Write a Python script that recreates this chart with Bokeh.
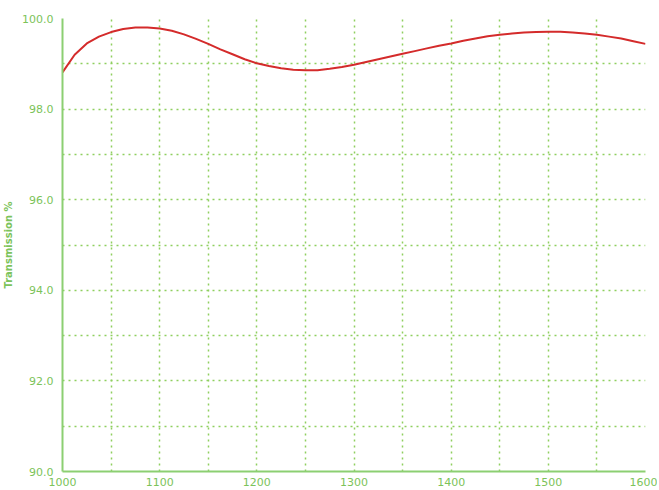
from bokeh.plotting import figure
from bokeh.embed import file_html
from bokeh.resources import INLINE
from bokeh.models import SingleIntervalTicker, FixedTicker, Range1d, CustomJSTickFormatter

wavelength = [1000, 1012.5, 1025, 1037.5, 1050, 1062.5, 1075, 1087.5, 1100, 1112.5, 1125, 1137.5,
              1150, 1162.5, 1175, 1187.5, 1200, 1212.5, 1225, 1237.5, 1250, 1262.5, 1275, 1287.5,
              1300, 1312.5, 1325, 1337.5, 1350, 1362.5, 1375, 1387.5, 1400, 1412.5, 1425, 1437.5,
              1450, 1462.5, 1475, 1487.5, 1500, 1512.5, 1525, 1537.5, 1550, 1562.5, 1575, 1587.5, 1600]
transmission = [98.81, 99.20, 99.45, 99.60, 99.70, 99.77, 99.80, 99.80, 99.78, 99.73, 99.65, 99.55,
                99.44, 99.32, 99.21, 99.10, 99.01, 98.95, 98.90, 98.87, 98.86, 98.86, 98.89, 98.93,
                98.98, 99.04, 99.10, 99.16, 99.22, 99.28, 99.34, 99.40, 99.45, 99.51, 99.56, 99.61,
                99.64, 99.67, 99.69, 99.70, 99.71, 99.71, 99.69, 99.67, 99.64, 99.60, 99.56, 99.50, 99.44]
x_ticks = [1000, 1100, 1200, 1300, 1400, 1500, 1600]
y_ticks = [90, 92, 94, 96, 98, 100]

green_text = "#7cc35a"
green_axis = "#8ccf72"
grid_col = "#8fcf5f"

p = figure(width=657, height=488, output_backend="svg", toolbar_location=None,
           x_range=Range1d(1000, 1600), y_range=Range1d(90, 100),
           min_border_left=4, min_border_right=12, min_border_top=18, min_border_bottom=4)
p.outline_line_color = None
p.background_fill_color = "white"
p.border_fill_color = "white"

p.line(wavelength, transmission, line_color="#d42b2b", line_width=2)

p.xaxis.ticker = FixedTicker(ticks=x_ticks)
p.yaxis.ticker = FixedTicker(ticks=y_ticks)
p.yaxis.formatter = CustomJSTickFormatter(code="return tick.toFixed(1)")
for ax in (p.xaxis[0], p.yaxis[0]):
    ax.axis_line_color = green_axis
    ax.axis_line_width = 2
    ax.major_tick_line_color = None
    ax.minor_tick_line_color = None
    ax.major_label_text_color = green_text
    ax.major_label_text_font = "DejaVu Sans"
    ax.major_label_text_font_size = "11px"
    ax.major_label_standoff = 3
p.xaxis.major_label_standoff = 0
p.yaxis.axis_label = "Transmission %"
p.yaxis.axis_label_text_font = "DejaVu Sans"
p.yaxis.axis_label_text_font_style = "bold"
p.yaxis.axis_label_text_font_size = "10px"
p.yaxis.axis_label_text_color = green_text
p.yaxis.axis_label_standoff = 5

p.xgrid.ticker = SingleIntervalTicker(interval=50)
p.ygrid.ticker = SingleIntervalTicker(interval=1)
for g in (p.xgrid[0], p.ygrid[0]):
    g.grid_line_color = grid_col
    g.grid_line_dash = "2 4"
    g.grid_line_width = 1.5

open("out.html", "w").write(file_html(p, INLINE))
